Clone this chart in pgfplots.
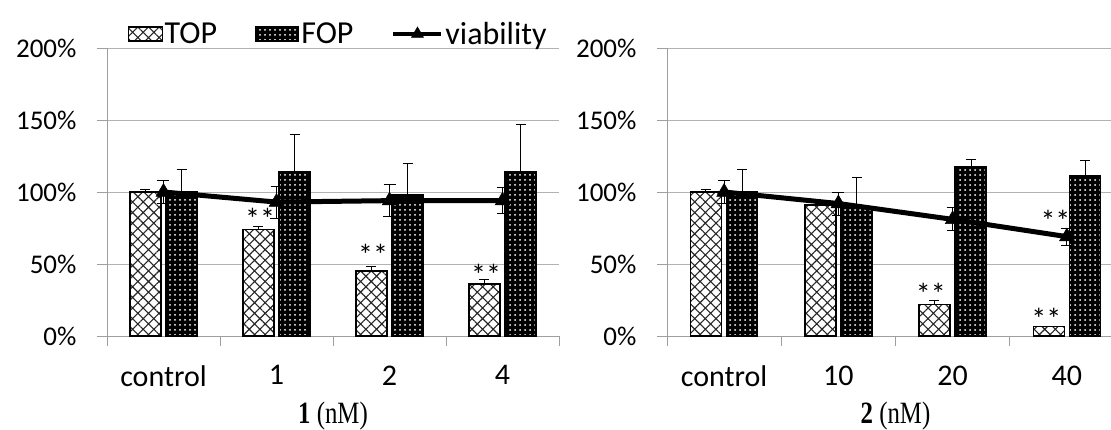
\documentclass[border=0pt]{standalone}
\usepackage{fontspec}
\setmainfont{Carlito}
\newfontfamily\tnr{Liberation Serif}
\usepackage{pgfplots}
\usepackage{pgfplotstable}
\pgfplotsset{compat=1.18}
\usetikzlibrary{patterns.meta}

\pgfplotstableread{
x top topE fop fopE v vE
0 100 2 100 16 100 8
1 74 2 114 26 93 11
2 45 3 98 22 94 11
3 36 3 114 33 94 9
}\leftdata
\pgfplotstableread{
x top topE fop fopE v vE
0 100 2 100 16 100 8
1 91 1 90 20 92 8
2 22 3 117.5 5 81 8
3 6.5 0.5 111.5 10.5 69 6
}\rightdata

\newcommand{\fz}{\fontsize{27}{30}\selectfont}
\tikzset{ast/.style={font=\fontsize{30}{32}\selectfont, yshift=-4pt}}
\pgfplotsset{
  mypanel/.style={
    scale only axis, height=288pt,
    xmin=-0.5, xmax=3.5, ymin=0, ymax=200,
    axis lines*=left,
    axis line style={draw=gray!75, line width=0.8pt},
    ytick={0,50,100,150,200},
    yticklabels={0\%,50\%,100\%,150\%,200\%},
    ymajorgrids, grid style={gray!60, line width=0.8pt},
    xtick={-0.5,0.5,1.5,2.5,3.5}, xticklabels={,,,,},
    tick align=outside, major tick length=10pt,
    tick style={draw=gray!75, line width=0.8pt},
    extra x ticks={0,1,2,3},
    extra x tick style={major tick length=0pt, xticklabel style={yshift=-26pt, font=\fontsize{30}{33}\selectfont}},
    tick label style={font=\fz},
    yticklabel style={xshift=-17pt},
    clip=false,
  },
  topbar/.style={ybar, bar width=31pt, bar shift=-18pt, draw=black, line width=1.6pt,
    fill=white,
    postaction={pattern={Hatch[angle=45,distance=7.5pt,line width=1.1pt]}, pattern color=black!85},
    legend image code/.code={\draw[##1,line width=1.2pt] (0pt,-7pt) rectangle (34pt,7pt);}},
  fopbar/.style={ybar, bar width=31pt, bar shift=18pt, draw=black, line width=1.6pt,
    fill=black,
    postaction={pattern={Dots[distance=5pt,radius=1pt]}, pattern color=white},
    legend image code/.code={\draw[##1,line width=1.2pt] (0pt,-7pt) rectangle (43pt,7pt);}},
  errplot/.style={draw=none, mark=none, forget plot,
    error bars/.cd, y dir=plus, y explicit,
    error bar style={draw=black, line width=0.8pt},
    error mark options={draw=black, rotate=90, line width=0.8pt, mark size=5pt}},
  viab/.style={black, line width=5pt, mark=triangle*, mark size=8.5pt,
    mark options={solid, line width=0.5pt},
    legend image code/.code={\draw[mark repeat=2,mark phase=2,##1, line width=4pt, mark size=7pt] plot coordinates {(0pt,0pt) (24pt,0pt) (48pt,0pt)};},
    error bars/.cd, y dir=both, y explicit,
    error bar style={line width=0.8pt, black},
    error mark options={rotate=90, line width=0.8pt, mark size=6pt, black}},
}

\begin{document}
\begin{tikzpicture}
\begin{axis}[mypanel, width=452pt, at={(107pt,-336pt)}, anchor=south west,
  extra x tick labels={control,1,2,4},
  legend style={at={(0.045,1.0)}, anchor=south west, draw=none, fill=none,
    legend columns=3, font=\fontsize{32}{34}\selectfont, inner sep=0pt, yshift=0pt,
    /tikz/every odd column/.append style={column sep=0pt},
    /tikz/every even column/.append style={column sep=36pt}},
  legend cell align=left]
\addplot[topbar] table[x=x,y=top] {\leftdata};
\addplot[fopbar] table[x=x,y=fop] {\leftdata};
\addplot[errplot] table[x expr=\thisrow{x}-0.16,y=top,y error=topE] {\leftdata};
\addplot[errplot] table[x expr=\thisrow{x}+0.16,y=fop,y error=fopE] {\leftdata};
\addplot[viab] table[x=x,y=v,y error=vE] {\leftdata};
\legend{TOP,FOP,viability}
\node[ast] at (axis cs:0.854,84) {**};
\node[ast] at (axis cs:1.854,59) {**};
\node[ast] at (axis cs:2.854,45) {**};
\node[font=\tnr\fontsize{31}{33}\selectfont] at (rel axis cs:0.5,0) [yshift=-80pt] {\scalebox{0.8}[1]{\textbf{1} (nM)}};
\end{axis}
\begin{axis}[mypanel, width=457pt, at={(667pt,-336pt)}, anchor=south west,
  extra x tick labels={control,10,20,40}]
\addplot[topbar] table[x=x,y=top] {\rightdata};
\addplot[fopbar] table[x=x,y=fop] {\rightdata};
\addplot[errplot] table[x expr=\thisrow{x}-0.16,y=top,y error=topE] {\rightdata};
\addplot[errplot] table[x expr=\thisrow{x}+0.16,y=fop,y error=fopE] {\rightdata};
\addplot[viab] table[x=x,y=v,y error=vE] {\rightdata};
\node[ast] at (axis cs:1.81,32) {**};
\node[ast] at (axis cs:2.82,15) {**};
\node[ast] at (axis cs:2.90,83) {**};
\node[font=\tnr\fontsize{31}{33}\selectfont] at (axis cs:1.5,0) [yshift=-80pt] {\scalebox{0.8}[1]{\textbf{2} (nM)}};
\end{axis}
\pgfresetboundingbox
\path[use as bounding box] (0,0) rectangle (1111pt,-430pt);
\end{tikzpicture}
\end{document}
